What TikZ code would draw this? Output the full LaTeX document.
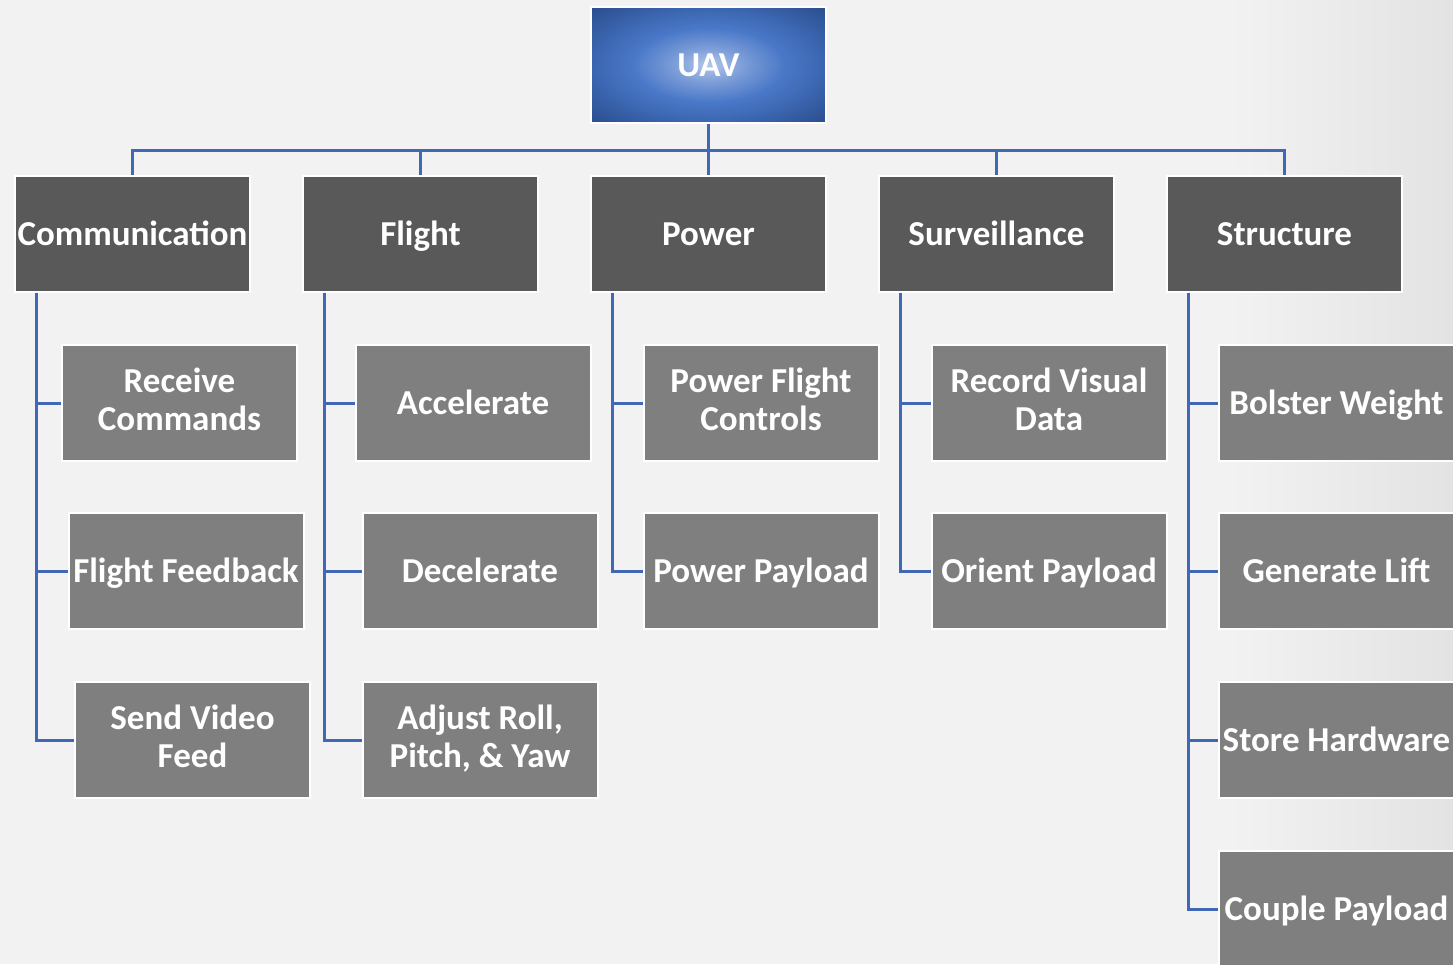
\documentclass[tikz,border=0pt]{standalone}
\usepackage{fontspec}
\setmainfont{Carlito}
\definecolor{bg}{HTML}{F2F2F2}
\definecolor{bgdark}{HTML}{E3E3E3}
\definecolor{topfill}{HTML}{595959}
\definecolor{subfill}{HTML}{7F7F7F}
\definecolor{wire}{HTML}{4068B5}
\definecolor{uavc}{HTML}{B4C7E8}
\definecolor{uavl}{HTML}{7E9FD8}
\definecolor{uavm}{HTML}{4A78C8}
\definecolor{uave}{HTML}{3A64AE}
\definecolor{uavd}{HTML}{2B4E8E}
\pgfdeclareradialshading{uavglow}{\pgfpoint{0bp}{0bp}}{color(0bp)=(uavc); color(7bp)=(uavl); color(16bp)=(uavm); color(25bp)=(uave); color(35bp)=(uavd); color(50bp)=(uavd)}
\newcommand{\linestrut}{\rule[-7.5pt]{0pt}{38pt}}
\tikzset{
  box/.style={rectangle, draw=white, line width=2pt, minimum width=235pt,
    minimum height=116pt, inner sep=2pt, align=center, text=white,
    font=\bfseries\fontsize{35}{38}\selectfont,
    execute at begin node=\linestrut, execute at end node=\linestrut},
  rootbox/.style={box, shade, shading=uavglow},
  groupbox/.style={box, fill=topfill},
  taskbox/.style={box, fill=subfill},
  wire/.style={draw=wire, line width=3pt},
}
\begin{document}
\begin{tikzpicture}[x=1pt,y=-1pt]
\clip (0,0) rectangle (1453,964);
\fill[bg] (0,0) rectangle (1453,964);
\shade[left color=bg, right color=bgdark] (1230,0) rectangle (1453,964);

% root
\node[rootbox] (uav) at (708.5,65) {UAV};

% functional groups
\node[groupbox] (comm) at (132.5,233.5) {Communication};
\node[groupbox] (flight) at (420.5,233.5) {Flight};
\node[groupbox] (power) at (708.5,233.5) {Power};
\node[groupbox] (surv) at (996.5,233.5) {Surveillance};
\node[groupbox] (struct) at (1284.5,233.5) {Structure};

% tasks
\node[taskbox] (rc) at (179.5,403) {Receive\\Commands};
\node[taskbox] (ff) at (186,571) {Flight Feedback};
\node[taskbox] (svf) at (192.5,740) {Send Video\\Feed};

\node[taskbox] (acc) at (473,403) {Accelerate};
\node[taskbox] (dec) at (480,571) {Decelerate};
\node[taskbox] (arpy) at (480,740) {Adjust Roll,\\Pitch, \& Yaw};

\node[taskbox] (pfc) at (761,403) {Power Flight\\Controls};
\node[taskbox] (pp) at (761,571) {Power Payload};

\node[taskbox] (rvd) at (1049,403) {Record Visual\\Data};
\node[taskbox] (op) at (1049,571) {Orient Payload};

\node[taskbox] (bw) at (1336.5,403) {Bolster Weight};
\node[taskbox] (gl) at (1336.5,571) {Generate Lift};
\node[taskbox] (sh) at (1336.5,740) {Store Hardware};
\node[taskbox] (cp) at (1336.5,909) {Couple Payload};

% root to groups
\foreach \g in {comm,flight,power,surv,struct}
  \draw[wire] (uav.south) -- ++(0,26) -| (\g.north);

% groups to tasks
\foreach \g/\t in {comm/rc,comm/ff,comm/svf,flight/acc,flight/dec,flight/arpy,
                   power/pfc,power/pp,surv/rvd,surv/op,
                   struct/bw,struct/gl,struct/sh,struct/cp}
  \draw[wire] ([xshift=22pt]\g.south west) |- (\t.west);
\end{tikzpicture}
\end{document}
